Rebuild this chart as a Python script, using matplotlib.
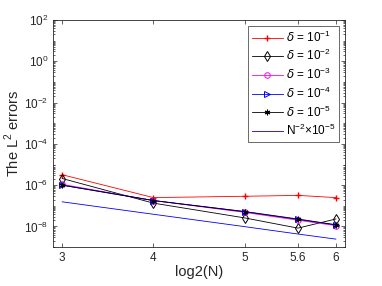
import numpy as np
import matplotlib
matplotlib.use("Agg")
import matplotlib.pyplot as plt
from matplotlib.ticker import LogLocator, NullFormatter

plt.rcParams['font.family'] = ['Liberation Sans', 'DejaVu Sans']
plt.rcParams['mathtext.fontset'] = 'custom'
plt.rcParams['mathtext.rm'] = 'Liberation Sans'
plt.rcParams['mathtext.it'] = 'DejaVu Sans:italic'

# log2(N) for N = 8, 16, 32, 48, 64
log2N = [3, 4, 5, 5.585, 6]
err_d1 = [3.2e-6, 2.5e-7, 2.9e-7, 3.2e-7, 2.5e-7]
err_d2 = [2.1e-6, 1.35e-7, 2.6e-8, 8.3e-9, 2.3e-8]
err_d3 = [1.1e-6, 1.8e-7, 4.8e-8, 2.0e-8, 1.1e-8]
err_d4 = [1.0e-6, 1.8e-7, 5.3e-8, 2.3e-8, 1.2e-8]
err_d5 = [1.0e-6, 1.8e-7, 5.2e-8, 2.2e-8, 1.2e-8]
ref_line = [1.56e-7, 3.9e-8, 9.8e-9, 4.3e-9, 2.44e-9]

xtick_pos = [3, 4, 5, 5.585, 6]
xtick_lab = ['3', '4', '5', '5.6', '6']

fig = plt.figure(figsize=(3.82, 2.86), dpi=100)
ax = fig.add_axes([0.139, 0.136, 0.764, 0.794])

lw = 0.6
ms = 4
asterisk = (6, 2, 0)
ax.plot(log2N, err_d1, color='red', marker='+', lw=lw, ms=ms + 1, label=r'$\delta$ = 10$^{-1}$')
ax.plot(log2N, err_d2, color='black', marker='d', mfc='none', lw=lw, ms=ms + 1, mew=0.7, label=r'$\delta$ = 10$^{-2}$')
ax.plot(log2N, err_d3, color='magenta', marker='o', mfc='none', lw=lw, ms=ms, mew=0.7, label=r'$\delta$ = 10$^{-3}$')
ax.plot(log2N, err_d4, color='blue', marker='>', mfc='none', lw=lw, ms=ms, mew=0.7, label=r'$\delta$ = 10$^{-4}$')
ax.plot(log2N, err_d5, color='black', marker=asterisk, lw=lw, ms=ms, mew=0.8, label=r'$\delta$ = 10$^{-5}$')
ax.plot(log2N, ref_line, color='blue', lw=lw, label=r'N$^{-2}$$\times$10$^{-5}$')

ax.set_yscale('log')
ax.set_xlim(2.9, 6.1)
ax.set_ylim(1e-9, 1e2)
ax.set_yticks([1e-8, 1e-6, 1e-4, 1e-2, 1e0, 1e2])
ax.yaxis.set_minor_locator(LogLocator(base=10, subs=np.arange(1, 10), numticks=30))
ax.yaxis.set_minor_formatter(NullFormatter())
ax.set_xticks(xtick_pos)
ax.set_xticklabels(xtick_lab)

for s in ax.spines.values():
    s.set_color('0.15')
    s.set_linewidth(0.6)
ax.tick_params(which='both', direction='in', top=True, right=True, colors='0.15', labelsize=8.5, width=0.5)
ax.tick_params(which='major', length=3)
ax.tick_params(which='minor', length=1.5)

ax.set_xlabel('log2(N)', fontsize=10.5, color='0.15', labelpad=1)
ax.set_ylabel(r'The L$^2$ errors', fontsize=10.5, color='0.15', labelpad=1)

leg = ax.legend(loc='upper right', fontsize=8.5, frameon=True, fancybox=False,
                edgecolor='0.15', borderaxespad=0.5, handlelength=2.6, labelspacing=0.3,
                borderpad=0.3, handletextpad=0.3)
leg.get_frame().set_linewidth(0.6)

fig.savefig('out.png', dpi=100)
